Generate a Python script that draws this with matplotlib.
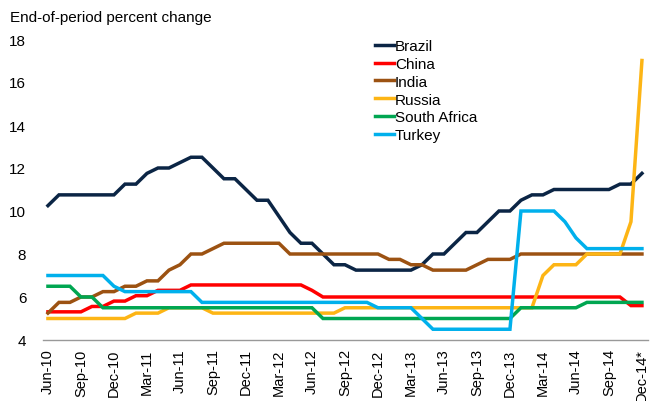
import numpy as np
import matplotlib
matplotlib.use('Agg')
import matplotlib.pyplot as plt

plt.rcParams['font.family'] = ['Liberation Sans', 'DejaVu Sans']

# Monthly policy rates, Jun-10 .. Dec-14 (end of period)
months = ['Jun-10', 'Jul-10', 'Aug-10', 'Sep-10', 'Oct-10', 'Nov-10', 'Dec-10',
          'Jan-11', 'Feb-11', 'Mar-11', 'Apr-11', 'May-11', 'Jun-11', 'Jul-11',
          'Aug-11', 'Sep-11', 'Oct-11', 'Nov-11', 'Dec-11', 'Jan-12', 'Feb-12',
          'Mar-12', 'Apr-12', 'May-12', 'Jun-12', 'Jul-12', 'Aug-12', 'Sep-12',
          'Oct-12', 'Nov-12', 'Dec-12', 'Jan-13', 'Feb-13', 'Mar-13', 'Apr-13',
          'May-13', 'Jun-13', 'Jul-13', 'Aug-13', 'Sep-13', 'Oct-13', 'Nov-13',
          'Dec-13', 'Jan-14', 'Feb-14', 'Mar-14', 'Apr-14', 'May-14', 'Jun-14',
          'Jul-14', 'Aug-14', 'Sep-14', 'Oct-14', 'Nov-14', 'Dec-14*']

brazil = [10.25, 10.75, 10.75, 10.75, 10.75, 10.75, 10.75, 11.25, 11.25, 11.75,
          12.0, 12.0, 12.25, 12.5, 12.5, 12.0, 11.5, 11.5, 11.0, 10.5,
          10.5, 9.75, 9.0, 8.5, 8.5, 8.0, 7.5, 7.5, 7.25, 7.25,
          7.25, 7.25, 7.25, 7.25, 7.5, 8.0, 8.0, 8.5, 9.0, 9.0,
          9.5, 10.0, 10.0, 10.5, 10.75, 10.75, 11.0, 11.0, 11.0, 11.0,
          11.0, 11.0, 11.25, 11.25, 11.75]

china = [5.31, 5.31, 5.31, 5.31, 5.56, 5.56, 5.81, 5.81, 6.06, 6.06,
         6.31, 6.31, 6.31, 6.56, 6.56, 6.56, 6.56, 6.56, 6.56, 6.56,
         6.56, 6.56, 6.56, 6.56, 6.31, 6.0, 6.0, 6.0, 6.0, 6.0,
         6.0, 6.0, 6.0, 6.0, 6.0, 6.0, 6.0, 6.0, 6.0, 6.0,
         6.0, 6.0, 6.0, 6.0, 6.0, 6.0, 6.0, 6.0, 6.0, 6.0,
         6.0, 6.0, 6.0, 5.6, 5.6]

india = [5.25, 5.75, 5.75, 6.0, 6.0, 6.25, 6.25, 6.5, 6.5, 6.75,
         6.75, 7.25, 7.5, 8.0, 8.0, 8.25, 8.5, 8.5, 8.5, 8.5,
         8.5, 8.5, 8.0, 8.0, 8.0, 8.0, 8.0, 8.0, 8.0, 8.0,
         8.0, 7.75, 7.75, 7.5, 7.5, 7.25, 7.25, 7.25, 7.25, 7.5,
         7.75, 7.75, 7.75, 8.0, 8.0, 8.0, 8.0, 8.0, 8.0, 8.0,
         8.0, 8.0, 8.0, 8.0, 8.0]

russia = [5.0, 5.0, 5.0, 5.0, 5.0, 5.0, 5.0, 5.0, 5.25, 5.25,
          5.25, 5.5, 5.5, 5.5, 5.5, 5.25, 5.25, 5.25, 5.25, 5.25,
          5.25, 5.25, 5.25, 5.25, 5.25, 5.25, 5.25, 5.5, 5.5, 5.5,
          5.5, 5.5, 5.5, 5.5, 5.5, 5.5, 5.5, 5.5, 5.5, 5.5,
          5.5, 5.5, 5.5, 5.5, 5.5, 7.0, 7.5, 7.5, 7.5, 8.0,
          8.0, 8.0, 8.0, 9.5, 17.0]

south_africa = [6.5, 6.5, 6.5, 6.0, 6.0, 5.5, 5.5, 5.5, 5.5, 5.5,
                5.5, 5.5, 5.5, 5.5, 5.5, 5.5, 5.5, 5.5, 5.5, 5.5,
                5.5, 5.5, 5.5, 5.5, 5.5, 5.0, 5.0, 5.0, 5.0, 5.0,
                5.0, 5.0, 5.0, 5.0, 5.0, 5.0, 5.0, 5.0, 5.0, 5.0,
                5.0, 5.0, 5.0, 5.5, 5.5, 5.5, 5.5, 5.5, 5.5, 5.75,
                5.75, 5.75, 5.75, 5.75, 5.75]

turkey = [7.0, 7.0, 7.0, 7.0, 7.0, 7.0, 6.5, 6.25, 6.25, 6.25,
          6.25, 6.25, 6.25, 6.25, 5.75, 5.75, 5.75, 5.75, 5.75, 5.75,
          5.75, 5.75, 5.75, 5.75, 5.75, 5.75, 5.75, 5.75, 5.75, 5.75,
          5.5, 5.5, 5.5, 5.5, 5.0, 4.5, 4.5, 4.5, 4.5, 4.5,
          4.5, 4.5, 4.5, 10.0, 10.0, 10.0, 10.0, 9.5, 8.75, 8.25,
          8.25, 8.25, 8.25, 8.25, 8.25]

series = [
    ('Brazil', brazil, '#0b2545'),
    ('China', china, '#ff0000'),
    ('India', india, '#9c5212'),
    ('Russia', russia, '#fdb515'),
    ('South Africa', south_africa, '#00a651'),
    ('Turkey', turkey, '#00b0ec'),
]

fig = plt.figure(figsize=(6.51, 4.02), dpi=100)
ax = fig.add_axes([43 / 651, 1 - 341 / 402, 605 / 651, 301 / 402])

x = np.arange(len(months))
for name, vals, color in series:
    ax.plot(x, vals, color=color, lw=2.5, label=name, solid_joinstyle='miter')

ax.set_xlim(-0.45, len(months) - 1 + 0.55)
ax.set_ylim(4, 18)
ax.set_yticks(range(4, 19, 2))
ax.set_xticks(x[::3])
ax.set_xticklabels(months[::3], rotation=90, fontsize=10.5)
ax.tick_params(axis='y', labelsize=11, length=0, pad=12)
ax.tick_params(axis='x', length=0, pad=6)

for s in ['top', 'right', 'left']:
    ax.spines[s].set_visible(False)
ax.spines['bottom'].set_color('#999999')
ax.spines['bottom'].set_linewidth(1)

fig.text(10 / 651, 1 - 18 / 402, 'End-of-period percent change', fontsize=11,
         va='center', ha='left')

ax.legend(loc='upper left', bbox_to_anchor=(326 / 605, 1.02), frameon=False,
          fontsize=11, handlelength=1.25, handletextpad=0.05,
          labelspacing=0.25, borderaxespad=0)

fig.savefig('out.png', dpi=100)
